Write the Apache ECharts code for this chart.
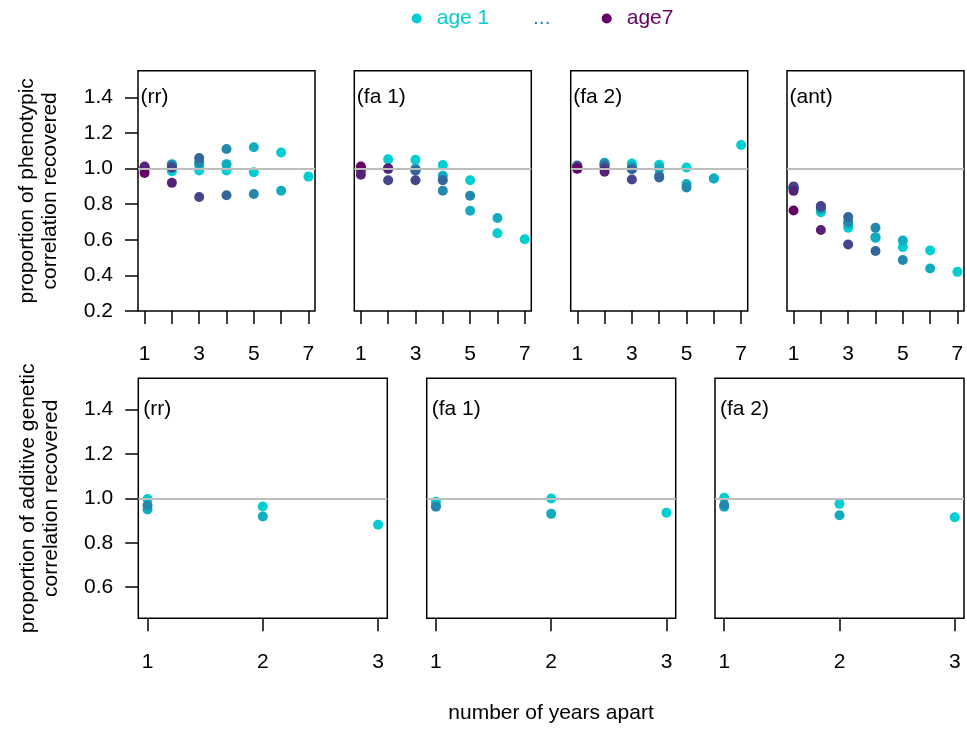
<!DOCTYPE html>
<html><head><meta charset="utf-8">
<script src="https://cdn.jsdelivr.net/npm/echarts@6/dist/echarts.min.js"></script>
<style>html,body{margin:0;padding:0;background:#fff}#c{width:967px;height:729px}</style>
</head><body><div id="c"></div>
<script>
// ---- data ----
const yearsApartPheno = [1, 2, 3, 4, 5, 6, 7];
const yearsApartGen = [1, 2, 3];
const phenoLabelX = [1, 3, 5, 7];
const phenoTicksY = [0.2, 0.4, 0.6, 0.8, 1.0, 1.2, 1.4];
const genTicksY = [0.6, 0.8, 1.0, 1.2, 1.4];
const phenoPanelNames = ['(rr)', '(fa 1)', '(fa 2)', '(ant)'];
const genPanelNames = ['(rr)', '(fa 1)', '(fa 2)'];
const ageNames = ['age 1', 'age 2', 'age 3', 'age 4', 'age 5', 'age 6', 'age7'];

// rows: starting age 1..7; values at years apart 1, 2, ...
const phenoRR = [
  [1.00, 0.985, 0.99, 0.99, 0.98, 1.09, 0.955],
  [1.00, 1.025, 1.02, 1.025, 1.12, 0.876],
  [1.00, 1.02, 1.035, 1.11, 0.857],
  [1.00, 1.01, 1.06, 0.85],
  [1.005, 1.005, 0.84],
  [1.012, 0.92],
  [0.975]
];
const phenoFA1 = [
  [1.00, 1.052, 1.05, 1.02, 0.935, 0.637, 0.603],
  [1.00, 1.00, 1.00, 0.96, 0.763, 0.722],
  [1.00, 1.00, 0.99, 0.876, 0.848],
  [0.995, 1.00, 0.99, 0.935],
  [0.99, 0.935, 0.935],
  [0.965, 1.00],
  [1.012]
];
const phenoFA2 = [
  [1.01, 1.02, 1.028, 1.022, 1.006, 0.944, 1.133],
  [1.01, 1.033, 1.01, 1.00, 0.913, 0.944],
  [1.01, 1.025, 1.00, 0.96, 0.894],
  [1.017, 1.015, 0.996, 0.95],
  [1.012, 1.00, 0.939],
  [1.00, 0.982],
  [1.00]
];
const phenoANT = [
  [0.89, 0.755, 0.668, 0.611, 0.559, 0.54, 0.42],
  [0.89, 0.77, 0.69, 0.615, 0.596, 0.439],
  [0.89, 0.78, 0.70, 0.668, 0.487],
  [0.895, 0.785, 0.728, 0.537],
  [0.90, 0.79, 0.574],
  [0.875, 0.655],
  [0.765]
];
const genRR = [
  [0.997, 0.963, 0.881],
  [0.95, 0.918],
  [0.969]
];
const genFA1 = [
  [0.985, 0.999, 0.935],
  [0.965, 0.93],
  [0.962]
];
const genFA2 = [
  [1.002, 0.975, 0.915],
  [0.962, 0.924],
  [0.97]
];

// ---- style / layout ----
const palette = ['#00CED1', '#11ACBF', '#2289AD', '#33679C', '#44458A', '#552278', '#660066'];
const FONT = "'Liberation Sans', Arial, sans-serif";
const FS = 21;
const topRow = { lefts: [138, 354.3, 570.7, 787], width: 177, top: 70.7, height: 240.3, xmin: 0.76, xmax: 7.24, ymin: 0.2, ymax: 1.55 };
const botRow = { lefts: [138.3, 426.7, 715], width: 249, top: 378.3, height: 240, xmin: 0.92, xmax: 3.08, ymin: 0.46, ymax: 1.54 };

const chart = echarts.init(document.getElementById('c'), null, { renderer: 'canvas' });

const grids = [], xAxes = [], yAxes = [], series = [];
const tickStyle = { color: '#000', width: 1.5 };
const labelStyle = { fontSize: FS, color: '#000', fontFamily: FONT };

function addPanel(row, idx, rows, xs, xLabels, yTicks, yName, first) {
  const g = grids.length;
  grids.push({ left: row.lefts[idx], top: row.top, width: row.width, height: row.height,
    show: true, borderColor: '#000', borderWidth: 1.5, backgroundColor: 'transparent', containLabel: false });
  xAxes.push({ type: 'value', gridIndex: g, min: row.xmin, max: row.xmax,
    axisLine: { show: false }, splitLine: { show: false },
    axisTick: { show: true, customValues: xs, length: 13, lineStyle: tickStyle },
    axisLabel: { customValues: xLabels, margin: 33, ...labelStyle } });
  yAxes.push({ type: 'value', gridIndex: g, min: row.ymin, max: row.ymax, show: first,
    axisLine: { show: false }, splitLine: { show: false },
    axisTick: { show: true, customValues: yTicks, length: 13, lineStyle: tickStyle },
    axisLabel: { customValues: yTicks, margin: 25, formatter: v => v.toFixed(1), ...labelStyle },
    name: first ? yName : '', nameLocation: 'middle', nameRotate: 90, nameGap: 76,
    nameTextStyle: { fontSize: FS, color: '#000', fontFamily: FONT, lineHeight: 23, align: 'center' } });
  series.push({ type: 'line', xAxisIndex: g, yAxisIndex: g, data: [], silent: true, z: 1,
    markLine: { silent: true, symbol: 'none', animation: false, label: { show: false },
      lineStyle: { color: '#BEBEBE', width: 2, type: 'solid' }, emphasis: { disabled: true },
      data: [{ yAxis: 1 }] } });
  rows.forEach((vals, a) => {
    series.push({ type: 'scatter', name: ageNames[a], xAxisIndex: g, yAxisIndex: g, z: 3,
      symbol: 'circle', symbolSize: 10, itemStyle: { color: palette[a], opacity: 1 },
      emphasis: { disabled: true },
      data: vals.map((v, i) => [xs[i], v]) });
  });
  return g;
}

const phenoPanels = [phenoRR, phenoFA1, phenoFA2, phenoANT];
const genPanels = [genRR, genFA1, genFA2];
const phenoG = phenoPanels.map((rows, i) => addPanel(topRow, i, rows, yearsApartPheno, phenoLabelX, phenoTicksY,
  'proportion of phenotypic\ncorrelation recovered', i === 0));
const genG = genPanels.map((rows, i) => addPanel(botRow, i, rows, yearsApartGen, yearsApartGen, genTicksY,
  'proportion of additive genetic\ncorrelation recovered', i === 0));

// dummy series for the "..." legend entry
series.push({ type: 'scatter', name: '...', xAxisIndex: 0, yAxisIndex: 0, data: [], itemStyle: { color: '#2289AD' } });

const legendBase = { top: 8, padding: 0, itemWidth: 30, itemHeight: 10, selectedMode: false, orient: 'horizontal' };
chart.setOption({
  animation: false,
  backgroundColor: '#fff',
  grid: grids, xAxis: xAxes, yAxis: yAxes, series: series,
  legend: [
    { ...legendBase, left: 411.7, data: [{ name: 'age 1', icon: 'circle' }], textStyle: { color: palette[0], fontSize: FS, fontFamily: FONT } },
    { ...legendBase, left: 498, data: [{ name: '...', icon: 'none' }], textStyle: { color: '#2289AD', fontSize: FS, fontFamily: FONT } },
    { ...legendBase, left: 601.7, data: [{ name: 'age7', icon: 'circle' }], textStyle: { color: palette[6], fontSize: FS, fontFamily: FONT } }
  ]
});

// panel labels placed via the axes' scales
const graphics = [];
function panelLabel(g, row, idx, text, dx) {
  const p = chart.convertToPixel({ gridIndex: g }, [row.xmin, 1.4]);
  graphics.push({ type: 'text', x: row.lefts[idx] + dx, y: p[1], silent: true,
    style: { text: text, font: FS + 'px ' + FONT, fill: '#000', verticalAlign: 'middle', align: 'left' } });
}
phenoG.forEach((g, i) => panelLabel(g, topRow, i, phenoPanelNames[i], 2.5));
genG.forEach((g, i) => panelLabel(g, botRow, i, genPanelNames[i], 5));
graphics.push({ type: 'text', x: (topRow.lefts[0] + topRow.lefts[3] + topRow.width) / 2, y: 713, silent: true,
  style: { text: 'number of years apart', font: FS + 'px ' + FONT, fill: '#000', align: 'center', verticalAlign: 'middle' } });
chart.setOption({ graphic: graphics });
</script></body></html>
